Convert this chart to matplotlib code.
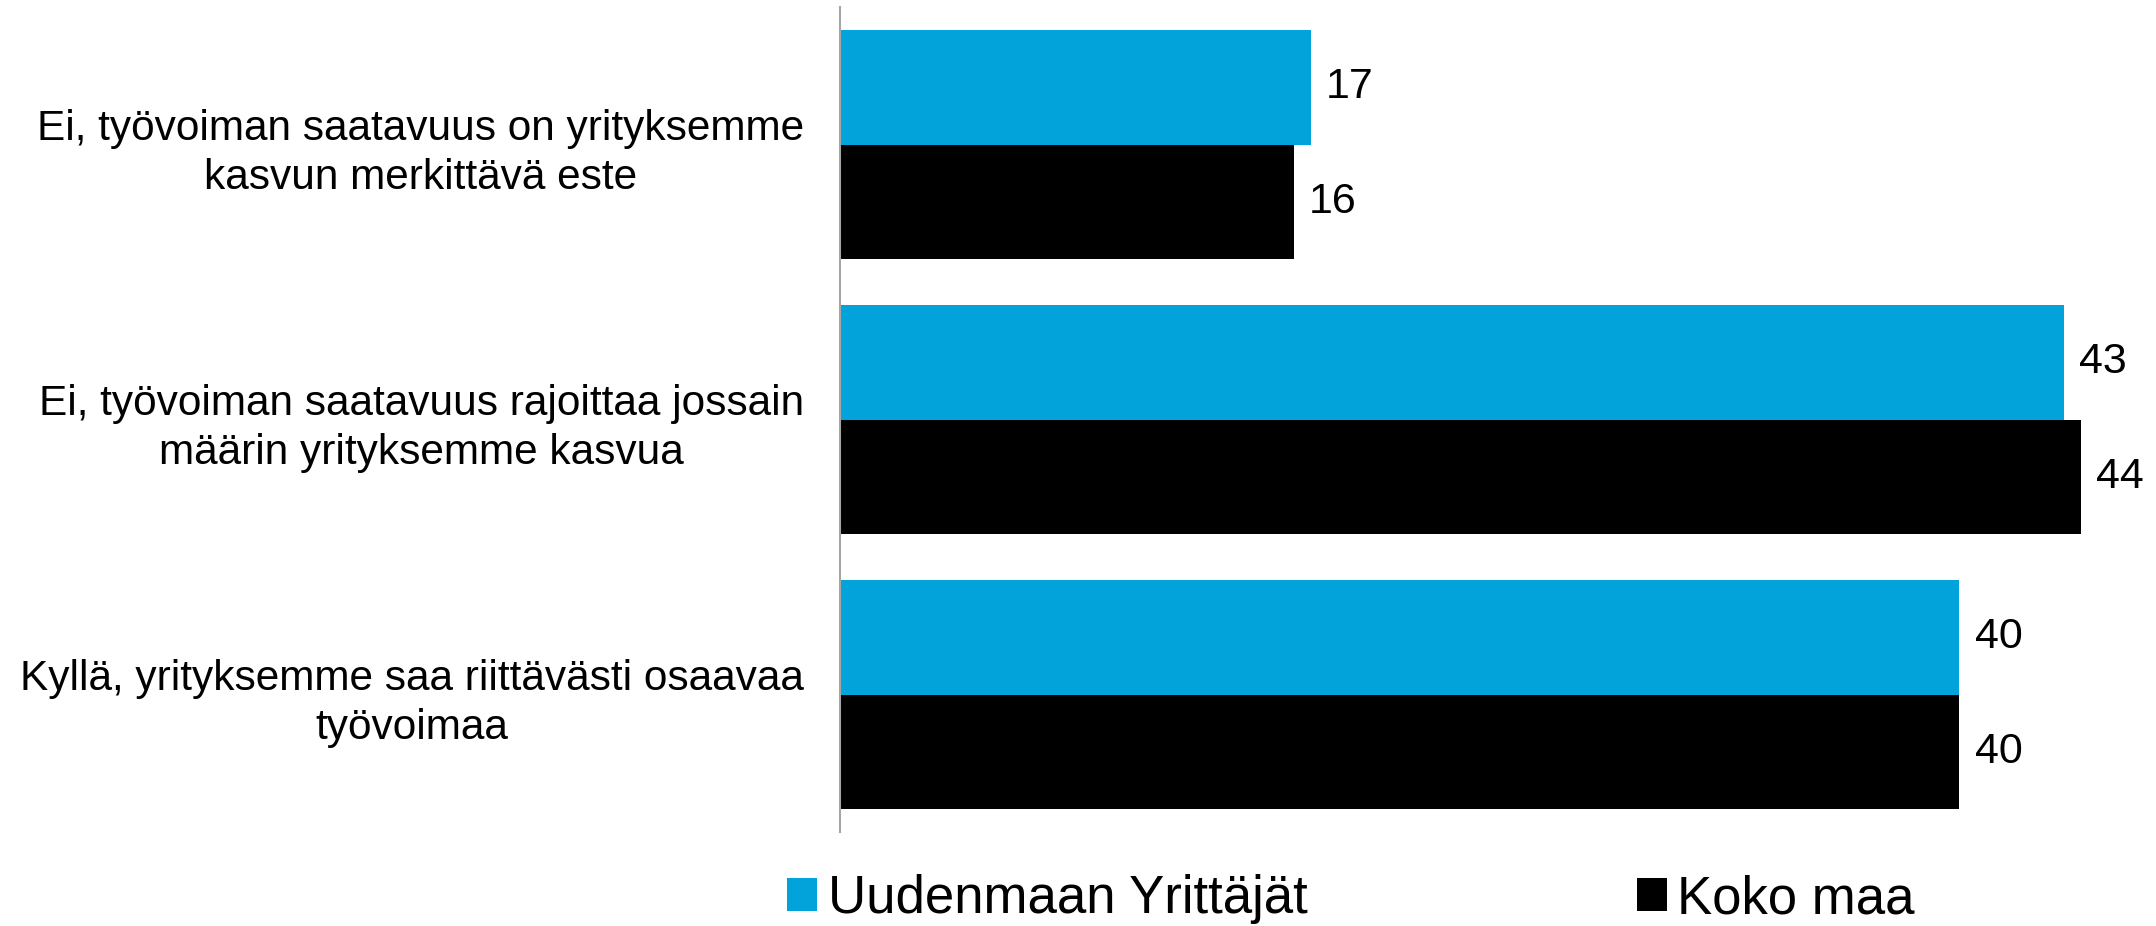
import matplotlib
matplotlib.use("Agg")
import matplotlib.pyplot as plt
import numpy as np

plt.rcParams['font.family'] = ['Liberation Sans', 'DejaVu Sans']

categories = [
    "Ei, työvoiman saatavuus on yrityksemme\nkasvun merkittävä este",
    "Ei, työvoiman saatavuus rajoittaa jossain\nmäärin yrityksemme kasvua",
    "Kyllä, yrityksemme saa riittävästi osaavaa\ntyövoimaa",
]
series_names = ["Uudenmaan Yrittäjät", "Koko maa"]
uusimaa = [16.7, 43.4, 39.7]
koko_maa = [16.1, 44.0, 39.7]
colors = ["#02A3DA", "#000000"]

fig = plt.figure(figsize=(21.56, 9.26), dpi=100)
ax = fig.add_axes([840/2156, 1-832/926, (2137-840)/2156, (832-7)/926])

y = np.arange(len(categories))
h = 0.418
b1 = ax.barh(y - h/2, uusimaa, height=h, color=colors[0], label=series_names[0])
b2 = ax.barh(y + h/2, koko_maa, height=h, color=colors[1], label=series_names[1])

for bars, vals in ((b1, uusimaa), (b2, koko_maa)):
    for rect, v in zip(bars, vals):
        ax.annotate(f"{round(v):d}", xy=(rect.get_width(), rect.get_y() + rect.get_height()/2),
                    xytext=(11, 0), textcoords="offset points",
                    ha="left", va="center", fontsize=31, color="black")

ax.set_xlim(0, 46)
ax.set_ylim(2.5, -0.5)
ax.set_yticks(y)
ax.set_yticklabels(categories, fontsize=30.5, multialignment="center", linespacing=1.3)
ax.tick_params(axis="y", length=0, pad=26)
ax.set_xticks([])
for s in ("top", "right", "bottom"):
    ax.spines[s].set_visible(False)
ax.spines["left"].set_color("#a6a6a6")
ax.spines["left"].set_linewidth(1.5)

leg = fig.legend(handles=[b1, b2], labels=series_names, loc="center",
                 bbox_to_anchor=(1351/2156, 1-899/926), ncol=2, frameon=False,
                 fontsize=38, handlelength=0.57, handleheight=0.57,
                 handletextpad=0.2, columnspacing=6.23, borderpad=0, borderaxespad=0)

fig.savefig("out.png", dpi=100)
